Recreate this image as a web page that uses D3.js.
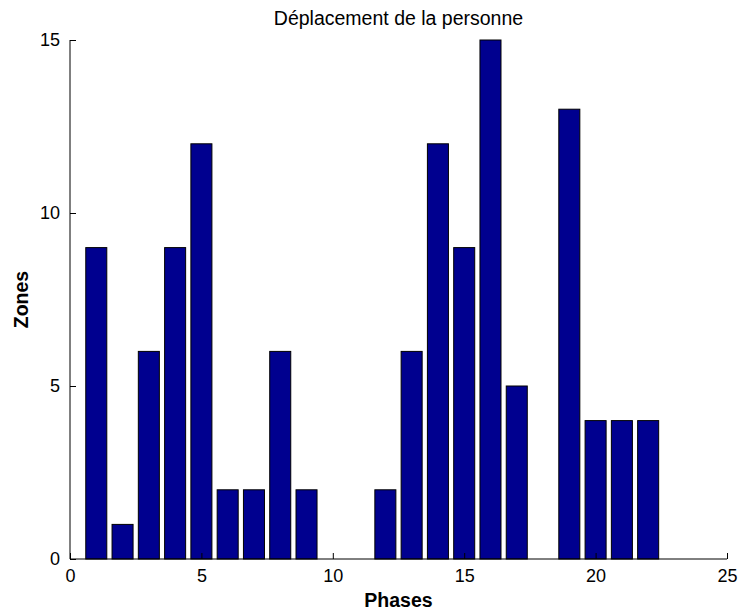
<!DOCTYPE html>
<html>
<head>
<meta charset="utf-8">
<script src="https://cdn.jsdelivr.net/npm/d3@7"></script>
<style>
  body { margin: 0; background: #fff; }
  svg text { font-family: "Liberation Sans", Arial, sans-serif; fill: #000; }
</style>
</head>
<body>
<svg id="chart"></svg>
<script>
// donnees
var phases = [1, 2, 3, 4, 5, 6, 7, 8, 9, 10, 11, 12, 13, 14, 15, 16, 17, 18, 19, 20, 21, 22, 23, 24]
var zones = [9, 1, 6, 9, 12, 2, 2, 6, 2, 0, 0, 2, 6, 12, 9, 15, 5, 0, 13, 4, 4, 4, 0, 0]
var xTicks = [0, 5, 10, 15, 20, 25]
var yTicks = [0, 5, 10, 15]

var width = 741,
    height = 612

var margin = { top: 40, right: 14, bottom: 53, left: 70 }

var svg = d3.select("#chart")
    .attr("width", width)
    .attr("height", height)

var w = width - margin.left - margin.right,
    h = height - margin.top - margin.bottom

var g = svg.append("g")
    .attr("transform", "translate(" + margin.left + "," + margin.top + ")")

var x = d3.scaleLinear().domain([0, 25]).range([0, w])
var y = d3.scaleLinear().domain([0, 15]).range([h, 0])

var barW = 0.8

// barres
g.selectAll(".bar")
    .data(zones)
    .enter()
    .append("rect")
    .attr("class", "bar")
    .attr("x", function (d, i) { return x(phases[i] - barW / 2) })
    .attr("width", x(barW) - x(0))
    .attr("y", function (d) { return y(d) })
    .attr("height", function (d) { return y(0) - y(d) })
    .attr("fill", "#00008f")
    .attr("stroke", "#000")
    .attr("stroke-width", 1)

// axes (ticks vers l'interieur, style matlab)
var xAxis = d3.axisBottom(x).tickValues(xTicks).tickSize(-6).tickPadding(10)
var yAxis = d3.axisLeft(y).tickValues(yTicks).tickSize(-6).tickPadding(10)

var gx = g.append("g")
    .attr("transform", "translate(0," + h + ")")
    .call(xAxis)
gx.select(".domain").attr("d", "M0,0H" + w)

var gy = g.append("g").call(yAxis)
gy.select(".domain").attr("d", "M0," + h + "V0")

svg.selectAll(".domain, .tick line").attr("stroke", "#000")
svg.selectAll(".tick text").style("font-size", "18px")

// titres
svg.append("text")
    .attr("x", margin.left + w / 2)
    .attr("y", 25)
    .attr("text-anchor", "middle")
    .style("font-size", "19.5px")
    .text("Déplacement de la personne")

svg.append("text")
    .attr("x", margin.left + w / 2)
    .attr("y", 607)
    .attr("text-anchor", "middle")
    .style("font-size", "19.5px")
    .style("font-weight", "bold")
    .text("Phases")

svg.append("text")
    .attr("transform", "translate(28," + (margin.top + h / 2) + ") rotate(-90)")
    .attr("text-anchor", "middle")
    .style("font-size", "19.5px")
    .style("font-weight", "bold")
    .text("Zones")
</script>
</body>
</html>
